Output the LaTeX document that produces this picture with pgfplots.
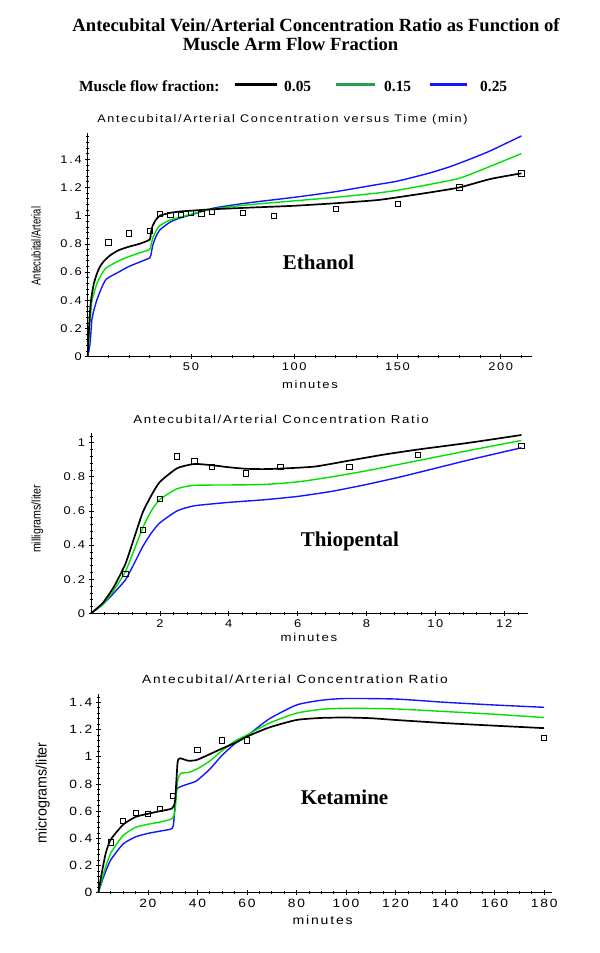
\documentclass[border=0pt]{standalone}
\usepackage{fontspec}
\setmainfont{Liberation Serif}
\newfontfamily\maple[LetterSpace=15, FakeStretch=1.15]{Liberation Sans}
\newfontfamily\ylabA[FakeStretch=0.72]{Liberation Sans}
\newfontfamily\ylabB[FakeStretch=0.85]{Liberation Sans}
\newfontfamily\ylabC[FakeStretch=0.95]{Liberation Sans}
\usepackage{pgfplots}
\pgfplotsset{compat=1.18}
\definecolor{mgreen}{RGB}{0,225,0}
\definecolor{mblue}{RGB}{20,20,255}
\definecolor{lgreen}{RGB}{40,155,85}

\pgfplotsset{
  mapleaxis/.style={
    scale only axis, axis lines=left,
    axis line style={-, line width=0.8bp, black},
    tick align=center, major tick length=5bp, minor tick length=3bp,
    every tick/.style={black, line width=0.6bp},
    tick label style={font=\maple\fontsize{11.2bp}{13bp}\selectfont, text=black},
    /pgf/number format/assume math mode=true,
    xmin=0, ymin=0, clip=false,
  },
  blk/.style={black, line width=1.7bp, smooth, tension=0.35},
  grn/.style={mgreen, line width=1.4bp, smooth, tension=0.35},
  blu/.style={mblue, line width=1.4bp, smooth, tension=0.35},
  obs/.style={only marks, mark=square, mark size=2.6bp, mark options={black, line width=0.7bp, solid}},
}

\begin{document}
\begin{tikzpicture}[x=1bp,y=1bp]
\path[use as bounding box] (0,0) rectangle (600,953);

% main title
\node[anchor=base, font=\bfseries\fontsize{18.6bp}{22bp}\selectfont, inner sep=0] at (316,921.5) {Antecubital Vein/Arterial Concentration Ratio as Function of};
\node[anchor=base, font=\bfseries\fontsize{18.6bp}{22bp}\selectfont, inner sep=0] at (290.5,902) {Muscle Arm Flow Fraction};
% legend
\node[anchor=base west, font=\bfseries\fontsize{15.4bp}{18bp}\selectfont, inner sep=0] at (79,861.5) {Muscle flow fraction:};
\draw[black, line width=3bp] (235,868) -- (277,868);
\node[anchor=base west, font=\bfseries\fontsize{15.4bp}{18bp}\selectfont, inner sep=0] at (284,861.5) {0.05};
\draw[lgreen, line width=3bp] (336,868) -- (375,868);
\node[anchor=base west, font=\bfseries\fontsize{15.4bp}{18bp}\selectfont, inner sep=0] at (384,861.5) {0.15};
\draw[mblue, line width=3bp] (430,868) -- (467,868);
\node[anchor=base west, font=\bfseries\fontsize{15.4bp}{18bp}\selectfont, inner sep=0] at (480,861.5) {0.25};

% ---------------- Ethanol ----------------
\node[font=\maple\fontsize{11bp}{13bp}\selectfont, inner sep=0] at (282.5,833.5) {Antecubital/Arterial Concentration versus Time (min)};
\node[font=\maple\fontsize{11.3bp}{13bp}\selectfont, inner sep=0] at (310,568.7) {minutes};
\node[rotate=90, font=\ylabA\fontsize{13bp}{15bp}\selectfont, inner sep=0] at (36,707) {Antecubital/Arterial};
\begin{axis}[mapleaxis, at={(87.7bp,596.3bp)}, anchor=south west,
  width=444bp, height=223.4bp, xmax=215, ymax=1.584,
  xtick={50,100,150,200}, ytick={0,0.2,0.4,0.6,0.8,1,1.2,1.4},
  minor xtick={10,20,...,210}, minor ytick={0.04,0.08,...,1.57}]
\addplot[blu] coordinates {(0,0)(0.7,0.05)(1.3,0.12)(2,0.26)(3,0.33)(4.5,0.405)(6.5,0.48)(9,0.55)(15,0.60)(20,0.64)(25,0.67)(30,0.70)(30.6,0.72)(31.5,0.79)(33,0.85)(35,0.90)(40,0.955)(45,0.985)(50,1.005)(60,1.05)(70,1.075)(80,1.095)(100,1.13)(120,1.17)(140,1.22)(150,1.245)(165,1.30)(175,1.345)(185,1.40)(195,1.46)(210,1.565)};
\addplot[grn] coordinates {(0,0)(0.5,0.1)(1,0.22)(2,0.39)(3,0.45)(4.5,0.52)(6.5,0.58)(9,0.63)(15,0.68)(20,0.71)(25,0.735)(30,0.76)(30.6,0.79)(31.5,0.84)(33,0.89)(35,0.93)(40,0.97)(45,0.99)(50,1.01)(55,1.03)(60,1.045)(70,1.065)(80,1.08)(100,1.105)(120,1.13)(140,1.16)(150,1.18)(165,1.22)(180,1.265)(195,1.35)(210,1.44)};
\addplot[blk] coordinates {(0,0)(0.5,0.17)(1.3,0.36)(2,0.44)(3,0.52)(4.5,0.59)(6,0.64)(8,0.68)(11,0.72)(15,0.755)(20,0.78)(25,0.80)(30,0.83)(30.6,0.88)(31.5,0.93)(33,0.97)(35,1.0)(40,1.02)(45,1.03)(50,1.035)(60,1.045)(80,1.058)(100,1.07)(120,1.088)(140,1.11)(150,1.13)(165,1.163)(180,1.20)(195,1.26)(210,1.30)};
\addplot[obs] coordinates {(10,0.81)(20,0.875)(30,0.89)(35,1.01)(40,1.005)(45,1.005)(50,1.02)(55,1.015)(60,1.025)(75,1.02)(90,1.0)(120,1.05)(150,1.085)(180,1.2)(210,1.30)};
\end{axis}
\node[font=\bfseries\fontsize{21bp}{24bp}\selectfont, inner sep=0] at (318.5,690.3) {Ethanol};

% ---------------- Thiopental ----------------
\node[font=\maple\fontsize{11.5bp}{13bp}\selectfont, inner sep=0] at (281,533.7) {Antecubital/Arterial Concentration Ratio};
\node[font=\maple\fontsize{11.5bp}{13bp}\selectfont, inner sep=0] at (309,315.7) {minutes};
\node[rotate=90, font=\ylabB\fontsize{12.5bp}{15bp}\selectfont, inner sep=0] at (37.3,434) {milligrams/liter};
\begin{axis}[mapleaxis, at={(91bp,339.7bp)}, anchor=south west,
  width=437.3bp, height=180bp, xmax=12.7, ymax=1.055,
  xtick={2,4,6,8,10,12}, ytick={0,0.2,0.4,0.6,0.8,1},
  minor xtick={0.4,0.8,...,12.5}, minor ytick={0.04,0.08,...,1.04}]
\addplot[blu] coordinates {(0,0)(0.33,0.05)(0.67,0.12)(1,0.196)(1.25,0.29)(1.5,0.39)(1.75,0.47)(2,0.53)(2.5,0.60)(3,0.63)(4,0.65)(5,0.665)(6,0.685)(7,0.715)(8,0.755)(9,0.80)(10,0.85)(11,0.9)(12.5,0.97)};
\addplot[grn] coordinates {(0,0)(0.33,0.05)(0.67,0.137)(1,0.245)(1.25,0.37)(1.5,0.5)(1.75,0.6)(2,0.667)(2.5,0.73)(3,0.75)(4,0.752)(5,0.755)(6,0.77)(7,0.80)(8,0.835)(9,0.875)(10,0.915)(11,0.955)(12.5,1.013)};
\addplot[blk] coordinates {(0,0)(0.34,0.06)(0.67,0.157)(1,0.29)(1.25,0.44)(1.5,0.59)(1.75,0.69)(2,0.77)(2.5,0.85)(3,0.875)(3.5,0.868)(4,0.856)(4.5,0.847)(5,0.845)(5.5,0.848)(6.5,0.86)(7.5,0.895)(8.5,0.93)(9.5,0.96)(11,1.0)(12.5,1.045)};
\addplot[obs] coordinates {(1,0.23)(1.5,0.49)(2,0.67)(2.5,0.92)(3,0.89)(3.5,0.86)(4.5,0.82)(5.5,0.86)(7.5,0.86)(9.5,0.93)(12.5,0.98)};
\end{axis}
\node[font=\bfseries\fontsize{21bp}{24bp}\selectfont, inner sep=0] at (350,411.3) {Thiopental};

% ---------------- Ketamine ----------------
\node[font=\maple\fontsize{11.9bp}{14bp}\selectfont, inner sep=0] at (295,274) {Antecubital/Arterial Concentration Ratio};
\node[font=\maple\fontsize{12.2bp}{14bp}\selectfont, inner sep=0] at (322.7,33) {minutes};
\node[rotate=90, font=\ylabC\fontsize{15bp}{17bp}\selectfont, inner sep=0] at (42.7,160) {micrograms/liter};
\begin{axis}[mapleaxis, at={(98.3bp,60.3bp)}, anchor=south west,
  width=453.3bp, height=198.7bp, xmax=183, ymax=1.461,
  tick label style={font=\maple\fontsize{12bp}{14bp}\selectfont},
  xtick={20,40,...,180}, ytick={0,0.2,0.4,0.6,0.8,1,1.2,1.4},
  minor xtick={5,10,...,180}, minor ytick={0.04,0.08,...,1.45}]
\addplot[blu] coordinates {(0,0)(2.2,0.12)(5,0.24)(10,0.358)(15,0.41)(20,0.436)(25,0.453)(29.8,0.472)(30.5,0.53)(31.5,0.75)(33.3,0.78)(36.4,0.80)(39.7,0.823)(45,0.908)(49.7,1.005)(55,1.094)(60.3,1.157)(69,1.278)(80,1.38)(90,1.415)(100,1.428)(120,1.424)(140,1.40)(160,1.38)(180,1.363)};
\addplot[grn] coordinates {(0,0)(2.2,0.145)(5,0.29)(10,0.42)(15,0.48)(20,0.503)(25,0.52)(29.8,0.545)(31,0.605)(32,0.82)(33.3,0.877)(36.4,0.884)(39.7,0.908)(45,0.968)(49.7,1.04)(55,1.114)(60.3,1.162)(69,1.247)(80,1.32)(90,1.348)(100,1.356)(120,1.351)(140,1.332)(160,1.312)(180,1.288)};
\addplot[blk] coordinates {(0,0)(1.4,0.145)(3,0.29)(5,0.39)(10,0.50)(15,0.557)(20,0.58)(25,0.60)(29.8,0.62)(31,0.68)(32,0.956)(33,0.988)(36.4,0.97)(39.7,0.976)(44,1.01)(49.7,1.058)(55,1.10)(60.3,1.15)(69,1.215)(80,1.27)(90,1.285)(100,1.288)(110,1.283)(120,1.27)(140,1.247)(160,1.228)(180,1.21)};
\addplot[obs] coordinates {(5,0.37)(10,0.53)(15,0.59)(20,0.58)(25,0.615)(30,0.71)(40,1.05)(50,1.12)(60,1.12)(180,1.14)};
\end{axis}
\node[font=\bfseries\fontsize{21bp}{24bp}\selectfont, inner sep=0] at (344.5,156) {Ketamine};
\end{tikzpicture}
\end{document}
